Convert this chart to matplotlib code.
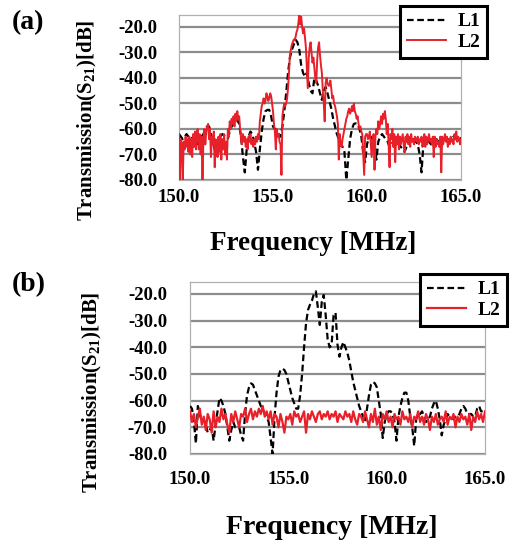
import numpy as np
import matplotlib
matplotlib.use("Agg")
import matplotlib.pyplot as plt
from matplotlib.ticker import FixedLocator, FormatStrFormatter

plt.rcParams['font.family'] = ['Liberation Serif', 'DejaVu Serif']
plt.rcParams['font.weight'] = 'bold'
plt.rcParams['mathtext.fontset'] = 'custom'
plt.rcParams['mathtext.rm'] = 'Liberation Serif:bold'
plt.rcParams['mathtext.bf'] = 'Liberation Serif:bold'
plt.rcParams['mathtext.it'] = 'Liberation Serif:bold'
plt.rcParams['mathtext.default'] = 'rm'

# ---------------- data ----------------
freq_start, freq_stop = 150.0, 165.0
x_ticks = [150.0, 155.0, 160.0, 165.0]
y_ticks = [-80.0, -70.0, -60.0, -50.0, -40.0, -30.0, -20.0]
series_names = ["L1", "L2"]

# panel (a) L1 (0.1 MHz step)
a_L1 = [
    -62, -63, -64, -63, -62, -63, -64, -63.5, -63, -64,
    -66, -64, -63, -62, -60, -59, -59, -62, -65, -68,
    -66, -65, -63, -62, -62.5, -63, -63.7, -61, -59, -57,
    -56.5, -56.5, -58, -63, -71, -77, -68, -63, -61, -62,
    -65, -69, -76, -68, -61, -56, -53, -52.5, -52.5, -55,
    -59, -60, -60.5, -62, -63, -59, -53, -46, -38, -32,
    -29, -27, -25, -26, -29, -35, -38, -39.5, -38, -42,
    -45, -46, -40, -41, -43, -46, -48.6, -45, -43.5, -46,
    -49, -52, -56, -59, -62, -64, -65.6, -67, -69, -80,
    -72, -64, -60, -58, -57.8, -58, -60, -63, -69.5, -73,
    -66, -63.5, -63, -64, -66, -72, -65, -63, -62, -63,
    -64, -65, -67, -66, -65, -64, -65, -66, -67, -68,
    -69, -67, -65, -64, -63, -64, -65, -66, -70, -77,
    -66, -65, -64, -65, -66, -66, -65, -64, -65, -66,
    -65, -64, -63, -64, -65, -64, -63, -64, -64, -63,
    -64,
]

# panel (a) L2 (0.05 MHz step)
a_L2 = [
    -62, -80, -64, -66, -80, -65, -68, -63, -67, -64, -69, -63, -70, -64, -71, -62, -67, -61, -68, -61,
    -60, -68, -62, -70, -63, -80, -64, -60, -66, -61, -59, -58, -64, -60, -71, -63, -66, -61, -75, -64,
    -66, -71, -63, -69, -62, -72, -64, -68, -62, -70, -65, -72, -60, -63, -57, -60, -56, -58, -55, -59,
    -54, -57, -53, -56, -55, -60, -64, -66, -62, -65, -63, -67, -64, -68, -63, -65, -62, -66, -64, -67,
    -64, -66, -63, -65, -62, -64, -57, -54, -51, -50, -48, -50, -49, -46, -47, -49, -48, -46, -47, -50,
    -53, -58, -61, -68, -60, -63, -62, -65, -66, -78, -55, -52, -50, -51, -50, -48, -44, -38, -31, -29,
    -27, -26, -25, -25, -24, -22, -21, -18.5, -15, -19, -16, -20, -22.5, -20.5, -24, -28, -36, -44, -32, -28,
    -26, -30, -34, -32, -36, -40, -42, -33, -28, -26, -31, -35, -38, -45, -50, -57, -42, -40, -42, -43,
    -43, -41, -44, -48, -47, -50, -51, -53, -55, -58, -72, -62, -66, -67, -64, -62, -60, -58, -56, -55,
    -53, -52, -54, -53, -51, -53, -50, -53, -54, -56, -55, -58, -60, -59, -61, -62, -70, -78, -63, -62,
    -62, -64, -63, -61, -66, -71, -64, -62, -76, -63, -60, -62, -57, -60, -58, -55, -58, -54, -56, -53,
    -56, -62, -58, -66, -75, -62, -64, -60, -67, -62, -73, -63, -66, -62, -68, -63, -66, -64, -62, -66,
    -69, -63, -65, -62, -66, -63, -67, -62, -65, -64, -66, -63, -64, -65, -63, -66, -64, -65, -63, -67,
    -65, -62, -67, -63, -66, -64, -62, -65, -64, -66, -63, -71, -63, -67, -64, -66, -65, -67, -63, -77,
    -63, -66, -64, -62, -65, -63, -67, -64, -66, -63, -65, -64, -66, -62, -64, -61, -65, -63, -64, -66,
    -64,
]

# panel (b) L1 (0.1 MHz step)
b_L1 = [
    -62, -63, -68, -76, -62, -65, -68, -67, -69, -72,
    -71, -70, -75, -69, -64, -59, -60, -62, -65, -70,
    -75, -71, -68, -70, -70, -70, -73, -75, -65, -58,
    -55, -53.5, -54, -56, -58, -60, -62, -63, -65, -66,
    -68, -74, -80, -66, -57, -51, -48.5, -48, -48.5, -50,
    -53, -56, -59, -61, -63, -63, -58, -50, -40, -31,
    -26, -24, -22.5, -20, -19, -25, -31.6, -23, -20.4, -28,
    -37, -40, -39, -28, -27, -39, -43.5, -40, -38, -40,
    -42, -45, -49, -53, -56, -59, -62, -64, -66, -68,
    -63, -58, -54, -53, -53.5, -55, -60, -65, -74, -68,
    -65, -64, -64, -65, -68, -75, -66, -62, -59, -57,
    -57, -60, -66, -70, -77, -67, -65, -65, -64, -66,
    -68, -67, -66, -63, -61, -60, -63, -67, -73, -69,
    -67, -65, -66, -66, -67, -66, -66, -65, -63, -62,
    -63, -65, -65, -65, -66, -66, -63, -62, -64, -64,
    -63.5,
]

# panel (b) L2 (0.1 MHz step)
b_L2 = [
    -64, -68, -65, -70, -66, -63, -69, -66, -71, -65,
    -67, -72, -64, -70, -66, -68, -63, -67, -65, -69,
    -72, -65, -68, -64, -67, -70, -65, -66, -63, -68,
    -65, -63, -67, -64, -66, -63, -65, -62, -66, -64,
    -67, -64, -69, -65, -66, -70, -65, -68, -72, -66,
    -67, -65, -69, -64, -66, -65, -68, -66, -64, -72,
    -65, -67, -64, -66, -68, -65, -64, -67, -65, -66,
    -64, -67, -65, -66, -64, -68, -65, -66, -67, -64,
    -66, -65, -68, -64, -67, -69, -65, -66, -68, -64,
    -67, -70, -65, -68, -63, -69, -66, -71, -65, -67,
    -64, -68, -66, -70, -65, -67, -66, -69, -64, -67,
    -66, -68, -65, -70, -66, -67, -64, -68, -66, -69,
    -65, -67, -71, -66, -68, -65, -69, -67, -66, -68,
    -64, -69, -66, -67, -65, -70, -66, -68, -65, -67,
    -66, -69, -65, -71, -66, -68, -64, -67, -65, -68,
    -64,
]

panels = [
    ("(a)", a_L1, a_L2),
    ("(b)", b_L1, b_L2),
]

# ---------------- figure ----------------
W, H = 513, 542
fig = plt.figure(figsize=(W / 100, H / 100), dpi=100)

def fx(px):
    return px / W

def fy(py):
    return 1 - py / H

layout = [
    dict(rect=[fx(179), fy(180), fx(461) - fx(179), fy(15) - fy(180)], ylim=(-80, -15.3),
         ylab=(fx(87), fy(120)), xlab=(fx(313), fy(243)), xlabsize=19.5,
         tag=(fx(12), fy(23)), leg=(fx(487), fy(6)), xpad=6.5, ypad=15.5, red_lw=1.4),
    dict(rect=[fx(190), fy(454), fx(485) - fx(190), fy(282) - fy(454)], ylim=(-80, -15.5),
         ylab=(fx(92), fy(392)), xlab=(fx(332), fy(527)), xlabsize=20,
         tag=(fx(12), fy(285)), leg=(fx(507), fy(274)), xpad=12, ypad=16.5, red_lw=1.6),
]

red = '#e8202a'
for (tag, l1, l2), lay in zip(panels, layout):
    ax = fig.add_axes(lay['rect'])
    x1 = np.linspace(freq_start, freq_stop, len(l1))
    x2 = np.linspace(freq_start, freq_stop, len(l2))
    ax.plot(x1, l1, color='black', lw=1.6, ls=(0, (3, 1.6)), label=series_names[0], zorder=3)
    ax.plot(x2, l2, color=red, lw=lay['red_lw'], label=series_names[1], zorder=4)
    ax.set_xlim(freq_start, freq_stop)
    ax.set_ylim(*lay['ylim'])
    ax.xaxis.set_major_locator(FixedLocator(x_ticks))
    ax.yaxis.set_major_locator(FixedLocator(y_ticks))
    ax.xaxis.set_major_formatter(FormatStrFormatter('%.1f'))
    ax.yaxis.set_major_formatter(FormatStrFormatter('%.1f'))
    ax.tick_params(axis='both', length=0, labelsize=13.5)
    ax.tick_params(axis='x', pad=lay['xpad'])
    ax.tick_params(axis='y', pad=lay['ypad'])
    for lab in ax.get_xticklabels() + ax.get_yticklabels():
        lab.set_fontweight('bold')
    ax.yaxis.grid(True, color='#8c8c8c', lw=1.6, zorder=1)
    ax.set_axisbelow(True)
    for sp in ax.spines.values():
        sp.set_color('#b0b0b0')
        sp.set_linewidth(0.9)
    fig.text(lay['ylab'][0], lay['ylab'][1], 'Transmission(S$_{21}$)[dB]', rotation=90,
             ha='center', va='center', fontsize=15, fontweight='bold')
    fig.text(lay['xlab'][0], lay['xlab'][1], 'Frequency [MHz]', ha='center', va='center',
             fontsize=lay['xlabsize'], fontweight='bold')
    fig.text(lay['tag'][0], lay['tag'][1], tag, ha='left', va='center', fontsize=20, fontweight='bold')
    leg = ax.legend(loc='upper right', bbox_to_anchor=lay['leg'], bbox_transform=fig.transFigure,
                    frameon=True, fancybox=False, framealpha=1, edgecolor='black',
                    prop={'family': 'Liberation Serif', 'weight': 'bold', 'size': 14},
                    handlelength=2.0, handletextpad=0.6, borderpad=0.35, labelspacing=0.15,
                    borderaxespad=0)
    leg.get_frame().set_linewidth(2.2)
    leg.set_zorder(10)

fig.savefig('out.png', dpi=100)
